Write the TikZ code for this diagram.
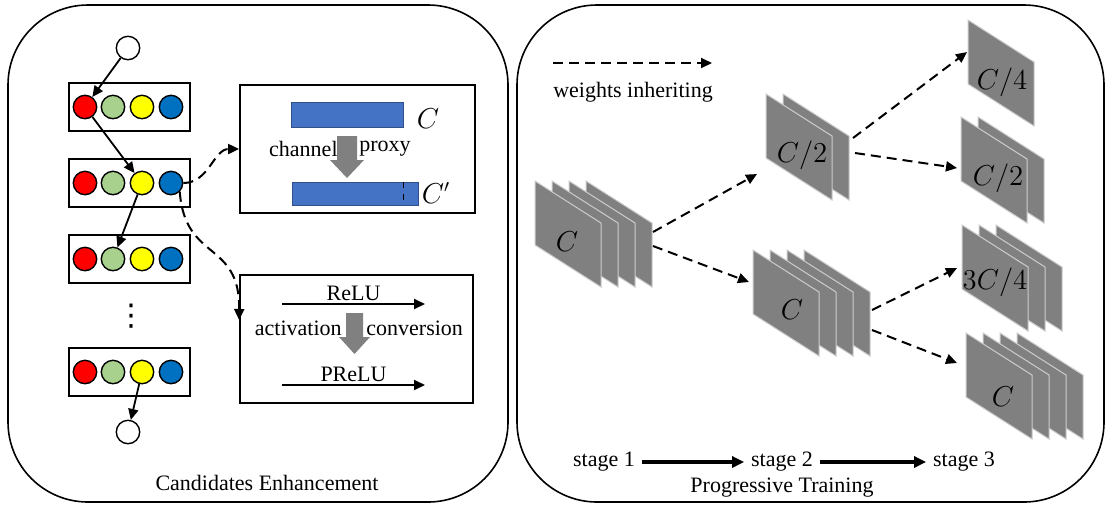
\documentclass[tikz,border=0pt]{standalone}
\usepackage{fontspec}
\setmainfont{Liberation Serif}
\newfontfamily\symfont{DejaVu Sans}
\usetikzlibrary{arrows.meta}

\definecolor{cred}{HTML}{FF0000}
\definecolor{cgreen}{HTML}{A9D18E}
\definecolor{cyellow}{HTML}{FFFF00}
\definecolor{cblue}{HTML}{0070C0}
\definecolor{barblue}{HTML}{4472C4}
\definecolor{sheetgray}{HTML}{808080}

% stack of feature maps: top-left x, top-left y, number of sheets
\newcommand{\featstack}[3]{%
  \foreach \k in {#3,...,1}{%
    \draw[sheet] ({#1+(\k-1)*17},#2) -- ++(66,42) -- ++(0,64) -- ++(-66,-42) -- cycle;
  }%
}

\begin{document}
\begin{tikzpicture}[
        x=0.5pt, y=-0.5pt,
        every node/.style={font=\fontsize{11}{13}\selectfont},
        ball/.style={draw, circle, line width=0.7pt, minimum size=11.7pt, inner sep=0pt},
        rowbox/.style={draw, rectangle, line width=0.9pt, minimum width=60.5pt, minimum height=24pt, inner sep=0pt},
        infobox/.style={draw, rectangle, line width=0.9pt, minimum height=64pt, inner sep=0pt},
        panel/.style={draw, line width=0.8pt, rounded corners=40pt},
        bar/.style={draw=barblue!70!black, fill=barblue, line width=0.4pt, inner sep=0pt},
        sheet/.style={fill=sheetgray, draw=gray!40, line width=0.5pt},
        maplabel/.style={font=\fontsize{13.5}{16}\selectfont},
        blockarrow/.style={fill=gray},
        arrow/.style={-{Triangle[length=5.5pt,width=5pt]}, line width=0.9pt},
        dasharrow/.style={-{Triangle[length=5.5pt,width=5pt]}, line width=1pt, dash pattern=on 5pt off 3pt},
        stagearrow/.style={-{Triangle[length=6pt,width=5.5pt]}, line width=1.6pt}
    ]
        \useasboundingbox (0,0) rectangle (1107,505);

        % Pannelli
        \draw[panel] (8,5) rectangle (508,502);
        \draw[panel] (517,5) rectangle (1104,502);

        % Candidati
        \node[ball, fill=white] (cin) at (128,48) {};
        \foreach \r/\y in {1/107, 2/183, 3/259, 4/372}{
            \node[rowbox] (row\r) at (129.5,\y) {};
            \foreach \i/\x/\col in {1/85/cred, 2/113/cgreen, 3/142/cyellow, 4/171/cblue}
                \node[ball, fill=\col] (c\r\i) at (\x,\y) {};
        }
        \node[font=\symfont\fontsize{15}{18}\selectfont, inner sep=0pt] (vdots) at (131,316) {⋮};
        \node[ball, fill=white] (cout) at (128,432) {};

        \draw[arrow] (cin) -- (c11);
        \draw[arrow] (c11) -- (c23);
        \draw[arrow] (c23) -- (c32);
        \draw[arrow] (c43) -- (cout);

        % Channel proxy
        \node[infobox, minimum width=117.5pt] (proxy) at (357.5,149) {};
        \node[bar, minimum width=56pt, minimum height=12.5pt] (bar1) at (347,114.5) {};
        \node[bar, minimum width=63pt, minimum height=11.5pt] (bar2) at (355,193.5) {};
        \draw[dashed, line width=0.6pt] (bar1.east |- bar2.north) -- (bar1.east |- bar2.south);
        \node[maplabel] (lc) at (428,119) {$C$};
        \node[maplabel] (lcp) at (436,193) {$C'$};
        \fill[blockarrow] (337,136) -- (357,136) -- (357,160) -- (364,160) -- (347,178) -- (330,160) -- (337,160) -- cycle;
        \node[anchor=east, inner sep=1pt] (tch) at (340,149) {channel};
        \node[anchor=west, inner sep=1pt] (tpx) at (357,149) {proxy};

        % Activation conversion
        \node[infobox, minimum width=116.5pt] (act) at (356.5,339) {};
        \coordinate (relu0) at (282,304);
        \coordinate (relu1) at (425,304);
        \draw[arrow] (relu0) -- (relu1) node[midway, above, inner sep=1pt] (trelu) {ReLU};
        \fill[blockarrow] (346,313) -- (363,313) -- (363,337) -- (370,337) -- (354.5,354) -- (339,337) -- (346,337) -- cycle;
        \node[anchor=east, inner sep=1pt] (tact) at (344,328) {activation};
        \node[anchor=west, inner sep=1pt] (tconv) at (364,328) {conversion};
        \coordinate (prelu0) at (282,385);
        \coordinate (prelu1) at (425,385);
        \draw[arrow] (prelu0) -- (prelu1) node[midway, above, inner sep=1pt] (tprelu) {PReLU};

        \draw[dasharrow] (c24.east) to[out=0, in=180] (proxy.west);
        \draw[dasharrow] (c24.south east) .. controls (185,262) and (240,240) .. ([yshift=9.5pt]act.west);

        \node (capl) at (267,483) {Candidates Enhancement};

        % Legenda
        \coordinate (lg0) at (553,63);
        \coordinate (lg1) at (712,63);
        \draw[dasharrow] (lg0) -- (lg1);
        \node (tlg) at (633,92) {weights inheriting};

        % Stage 1
        \featstack{535}{181}{4}
        \node[maplabel] (m1) at (567,242) {$C$};
        % Stage 2
        \featstack{766}{94}{2}
        \node[maplabel] (m2a) at (802,155) {$C/2$};
        \featstack{753}{250}{4}
        \node[maplabel] (m2b) at (792,310) {$C$};
        % Stage 3
        \featstack{968}{20}{1}
        \node[maplabel] (m3a) at (1002,82) {$C/4$};
        \featstack{961}{117}{2}
        \node[maplabel] (m3b) at (998,178) {$C/2$};
        \featstack{962}{225}{3}
        \node[maplabel] (m3c) at (995,282) {$3C/4$};
        \featstack{966}{333}{4}
        \node[maplabel] (m3d) at (1003,397) {$C$};

        % Estremi delle frecce
        \coordinate (s1a) at (653,232);
        \coordinate (s1b) at (653,246);
        \coordinate (s2ai) at (757,174);
        \coordinate (s2ao1) at (853,138);
        \coordinate (s2ao2) at (855,153);
        \coordinate (s2bi) at (749,282);
        \coordinate (s2bo1) at (872,310);
        \coordinate (s2bo2) at (872,330);
        \coordinate (s3ai) at (967,52);
        \coordinate (s3bi) at (957,168);
        \coordinate (s3ci) at (957,268);
        \coordinate (s3di) at (957,363);

        \draw[dasharrow] (s1a) -- (s2ai);
        \draw[dasharrow] (s1b) -- (s2bi);
        \draw[dasharrow] (s2ao1) -- (s3ai);
        \draw[dasharrow] (s2ao2) -- (s3bi);
        \draw[dasharrow] (s2bo1) -- (s3ci);
        \draw[dasharrow] (s2bo2) -- (s3di);

        % Stages
        \node (st1) at (604,462) {stage 1};
        \node (st2) at (782,462) {stage 2};
        \node (st3) at (964,462) {stage 3};
        \draw[stagearrow] (st1) -- (st2);
        \draw[stagearrow] (st2) -- (st3);

        \node (capr) at (782,488) {Progressive Training};

    \end{tikzpicture}
\end{document}
